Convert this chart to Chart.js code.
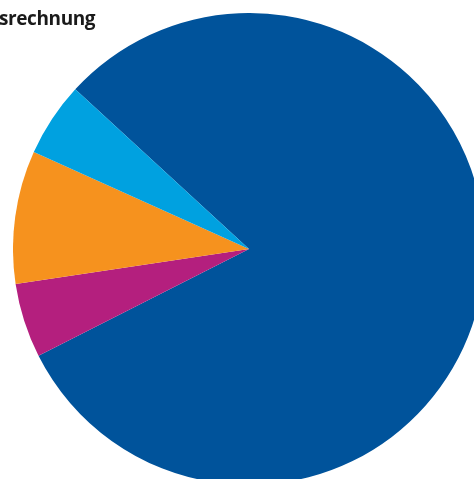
<!DOCTYPE html>
<html>
<head>
<meta charset="utf-8">
<script src="https://cdn.jsdelivr.net/npm/chart.js@4"></script>
<style>
  html, body { margin: 0; padding: 0; background: #fff; overflow: hidden; width: 474px; height: 479px; }
  #wrap { position: absolute; left: 13px; top: 13px; width: 472px; height: 472px; }
  #title { position: absolute; left: -1px; top: 5px; font-family: "Open Sans", sans-serif; font-weight: bold; font-size: 19px; letter-spacing: -0.4px; color: #1a1a1a; z-index: 2; }
</style>
</head>
<body>
<div id="title">srechnung</div>
<div id="wrap"><canvas id="myChart"></canvas></div>
<script>
// Anteile in Prozent, im Uhrzeigersinn ab der oberen linken Kante
const labels = ['Blau', 'Magenta', 'Orange', 'Hellblau'];
const values = [80.7, 5.1, 9.1, 5.1];
const colors = ['#00539b', '#b41f7e', '#f6921e', '#00a1e0'];

const config = {
  type: 'pie',
  data: {
    labels: labels,
    datasets: [{
      data: values,
      backgroundColor: colors,
      borderWidth: 0,
    }],
  },
  options: {
    responsive: true,
    maintainAspectRatio: false,
    animation: false,
    rotation: -47.4,
    layout: { padding: 0 },
    plugins: {
      legend: { display: false },
      tooltip: { enabled: false },
      title: { display: false },
    },
  },
};
var ctx = document.getElementById('myChart').getContext('2d');
new Chart(ctx, config);
</script>
</body>
</html>
